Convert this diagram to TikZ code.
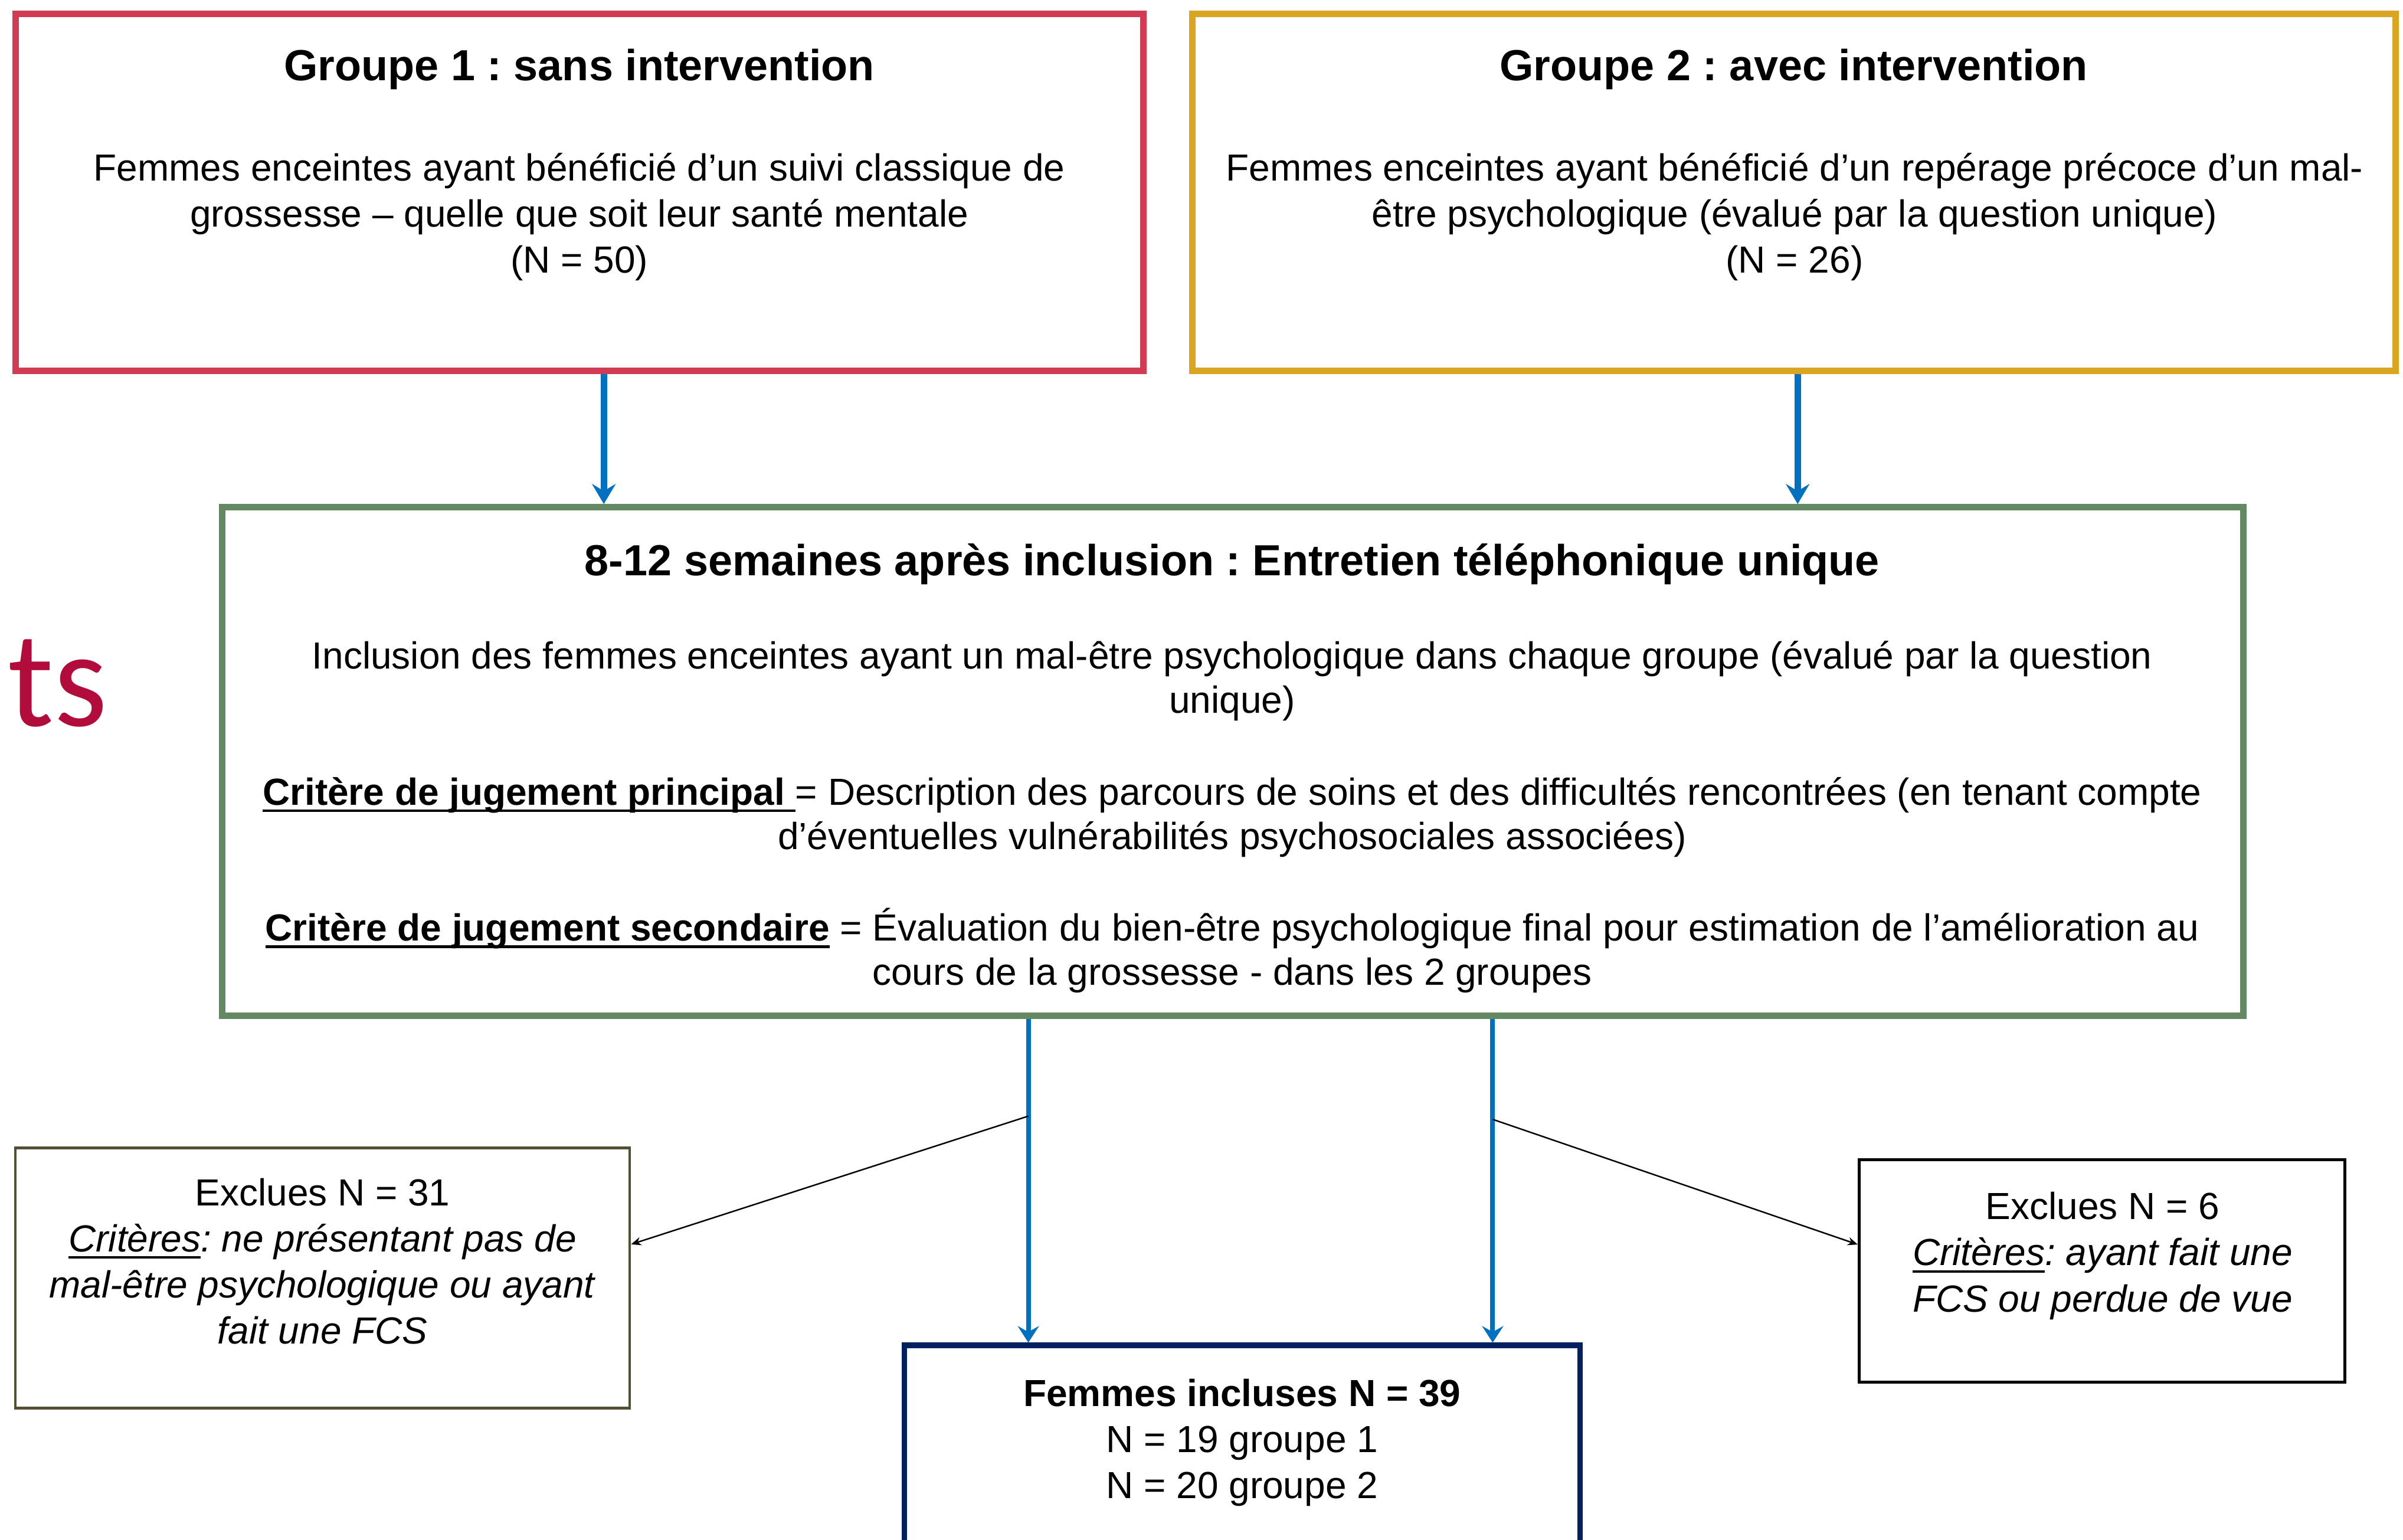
\documentclass[tikz,border=0pt]{standalone}
\usepackage{fontspec}
\setmainfont{Liberation Sans}
\newfontfamily\titlefont{Carlito}
\usetikzlibrary{arrows.meta}
\frenchspacing
\definecolor{grpred}{RGB}{209,59,84}
\definecolor{grpgold}{RGB}{218,165,32}
\definecolor{phonegreen}{RGB}{98,137,98}
\definecolor{inclnavy}{RGB}{0,32,96}
\definecolor{exolive}{RGB}{84,78,52}
\definecolor{arrowblue}{RGB}{0,112,192}
\definecolor{tsred}{RGB}{178,12,60}
\newsavebox\undlbox
\newcommand\undl[1]{\sbox\undlbox{#1}\rlap{\rule[-3.4pt]{\wd\undlbox}{1.2pt}}\usebox\undlbox}
\begin{document}
\begin{tikzpicture}[x=0.2597mm, y=-0.2597mm, >=Stealth]
  \tikzset{
  box/.style={
    draw,
    inner sep=0pt
  },
  titletext/.style={
    anchor=base,
    font=\fontsize{21}{25}\selectfont\bfseries
  },
  bodytext/.style={
    anchor=base,
    align=center,
    font=\fontsize{18.2}{22.2}\selectfont
  },
  bluearrow/.style={
    draw=arrowblue,
    line width=3.1pt,
    -{Stealth[length=3.4mm 0, width=4mm 0, inset=1.2mm]}
  },
  thinblue/.style={
    draw=arrowblue,
    line width=2.3pt,
    -{Stealth[length=2.8mm 0, width=3.6mm 0, inset=1mm]}
  },
  exarrow/.style={
    draw=black,
    line width=0.7pt,
    -{Stealth[length=1.7mm 0, width=1.4mm 0]}
  }
}
\useasboundingbox (0,0) rectangle (1568,1005);

% the two groups (text nodes sit on the baseline of their last line)
\node [box, draw=grpred, line width=3.1pt, minimum width=191.1mm, minimum height=60.5mm] (g1) at (378,125.5) {};
\node [box, draw=grpgold, line width=3.1pt, minimum width=203.9mm, minimum height=60.5mm] (g2) at (1170.5,125.5) {};
\node [titletext] (g1title) at (378,52.5) {Groupe 1 : sans intervention};
\node [titletext] (g2title) at (1170.5,52.5) {Groupe 2 : avec intervention};
\node [bodytext] (g1body) at (378,178) {Femmes enceintes ayant bénéficié d’un suivi classique de\\grossesse – quelle que soit leur santé mentale\\(N = 50)};
\node [bodytext] (g2body) at (1171,178) {Femmes enceintes ayant bénéficié d’un repérage précoce d’un mal-\\être psychologique (évalué par la question unique)\\(N = 26)};

% phone interview
\node [box, draw=phonegreen, line width=3.1pt, minimum width=342.5mm, minimum height=86.2mm] (phone) at (804.5,497) {};
\node [titletext] (phonetitle) at (804,375.5) {8-12 semaines après inclusion : Entretien téléphonique unique};
\node [bodytext, font=\fontsize{18.2}{21.4}\selectfont] (phonebody) at (804,643) {Inclusion des femmes enceintes ayant un mal-être psychologique dans chaque groupe (évalué par la question\\unique)\\[22.8pt]
  \textbf{\undl{Critère de jugement principal\ }}= Description des parcours de soins et des difficultés rencontrées (en tenant compte\\d’éventuelles vulnérabilités psychosociales associées)\\[22.8pt]
  \textbf{\undl{Critère de jugement secondaire}} = Évaluation du bien-être psychologique final pour estimation de l’amélioration au\\cours de la grossesse - dans les 2 groupes};

% excluded and included women
\node [box, draw=exolive, line width=1.3pt, minimum width=104.1mm, minimum height=44.1mm] (exleft) at (210.5,834) {};
\node [box, draw=black, line width=1.3pt, minimum width=82.3mm, minimum height=37.7mm] (exright) at (1371.5,829.5) {};
\node [box, draw=inclnavy, line width=2.6pt, minimum width=114.5mm, minimum height=42.1mm] (incl) at (810.5,959) {};
\node [bodytext] (exlefttext) at (210.5,877) {Exclues N = 31\\\textit{\undl{Critères}: ne présentant pas de}\\\textit{mal-être psychologique ou ayant}\\\textit{fait une FCS}};
\node [bodytext] (exrighttext) at (1372,856) {Exclues N = 6\\\textit{\undl{Critères}: ayant fait une}\\\textit{FCS ou perdue de vue}};
\node [bodytext] (incltext) at (810.5,978) {\textbf{Femmes incluses N = 39}\\N = 19 groupe 1\\N = 20 groupe 2};

\node [anchor=base west, inner sep=0pt, text=tsred, font=\titlefont\fontsize{66}{70}\selectfont] (ts) at (5,474) {ts};

% connectors
\coordinate (a1) at (394,0);
\coordinate (a2) at (1173,0);
\coordinate (b1) at (671,0);
\coordinate (b2) at (974,0);
\draw [bluearrow] (g1.south -| a1) -- (phone.north -| a1);
\draw [bluearrow] (g2.south -| a2) -- (phone.north -| a2);
\draw [thinblue] (phone.south -| b1) -- coordinate[pos=0.3] (s1) (incl.north -| b1);
\draw [thinblue] (phone.south -| b2) -- coordinate[pos=0.31] (s2) (incl.north -| b2);
\draw [exarrow] (s1) -- ([yshift=5.7mm]exleft.east);
\draw [exarrow] (s2) -- ([yshift=4.5mm]exright.west);
\end{tikzpicture}
\end{document}
